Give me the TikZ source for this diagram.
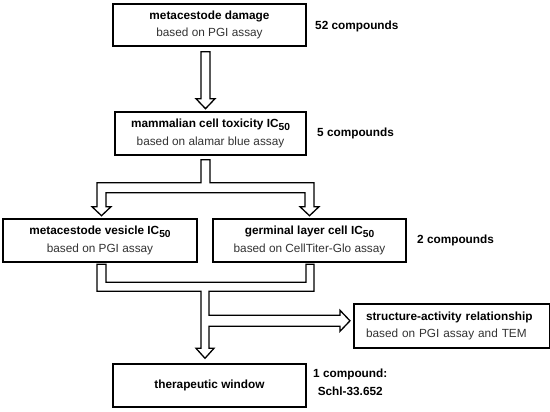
\documentclass[tikz,border=0pt]{standalone}
\usepackage{fontspec}
\setmainfont{Liberation Sans}
\begin{document}
\begin{tikzpicture}[x=1pt,y=-1pt,
  box/.style={draw=black, line width=1.4pt, fill=white, inner sep=0pt, align=center,
    font=\fontsize{11.8}{17.5}\selectfont},
  side/.style={font=\fontsize{11.8}{18}\selectfont\bfseries, anchor=west, align=center, inner sep=0pt},
  blockarrow/.style={draw=black, line width=1.3pt, fill=white, line join=miter}]
\newcommand{\icfifty}{IC\raisebox{-2.6pt}{\fontsize{10.2}{10}\selectfont 50}}
\newcommand{\rg}[1]{\textcolor{black!80}{\mdseries #1}}
\useasboundingbox (0,0) rectangle (550,412);

\node[box, minimum width=193pt, minimum height=42pt] (b1) at (209.5,25)
  {\textbf{metacestode damage}\\ \rg{based on PGI assay}};
\node[box, minimum width=191pt, minimum height=43pt] (b2) at (210.5,133.5)
  {\textbf{mammalian cell toxicity \icfifty}\\ \rg{based on alamar blue assay}};
\node[box, minimum width=194pt, minimum height=43pt] (b3) at (100,240.5)
  {\textbf{metacestode vesicle \icfifty}\\ \rg{based on PGI assay}};
\node[box, minimum width=193pt, minimum height=43pt] (b4) at (309.5,240.5)
  {\textbf{germinal layer cell \icfifty}\\ \rg{based on CellTiter-Glo assay}};
\node[box, minimum width=193pt, minimum height=43pt] (b5) at (209.5,385.5)
  {\textbf{therapeutic window}};
\node[box, minimum width=196pt, minimum height=44pt, text width=172pt, align=left] (b6) at (452,326)
  {\textbf{structure-activity relationship}\\ \rg{based on PGI assay and TEM}};

\node[side] (l1) at (315,26) {52 compounds};
\node[side] (l2) at (317,133) {5 compounds};
\node[side] (l3) at (417,240) {2 compounds};
\node[side] (l4) at (313,382) {1 compound:\\Schl-33.652};

% arrow from b1 to b2
\draw[blockarrow, shift={(b1.south)}]
  (-8.5,5) -- (0.5,5) -- (0.5,52) -- (5.5,52) -- (-4,62) -- (-13.5,52) -- (-8.5,52) -- cycle;

% split arrow from b2 to b3 and b4
\draw[blockarrow, shift={(b2.south)}]
  (-9.5,4) -- (-0.5,4) -- (-0.5,27) -- (103.5,27) -- (103.5,51) -- (108.5,51) -- (99,60)
  -- (89.5,51) -- (94.5,51) -- (94.5,37) -- (-104.5,37) -- (-104.5,51) -- (-99.5,51)
  -- (-109,60) -- (-118.5,51) -- (-113.5,51) -- (-113.5,27) -- (-9.5,27) -- cycle;

% merge arrow from b3, b4 to b5 and b6
\draw[blockarrow, shift={(b5.north)}]
  (-112.5,-99) -- (-103.5,-99) -- (-103.5,-81) -- (96.5,-81) -- (96.5,-99) -- (104.5,-99)
  -- (104.5,-72) -- (-0.5,-72) -- (-0.5,-48) -- (130.5,-48) -- (130.5,-53) -- (140.5,-42.5)
  -- (130.5,-32) -- (130.5,-37) -- (-0.5,-37) -- (-0.5,-15) -- (4.5,-15) -- (-4.5,-5)
  -- (-13.5,-15) -- (-8.5,-15) -- (-8.5,-72) -- (-112.5,-72) -- cycle;
\end{tikzpicture}
\end{document}
